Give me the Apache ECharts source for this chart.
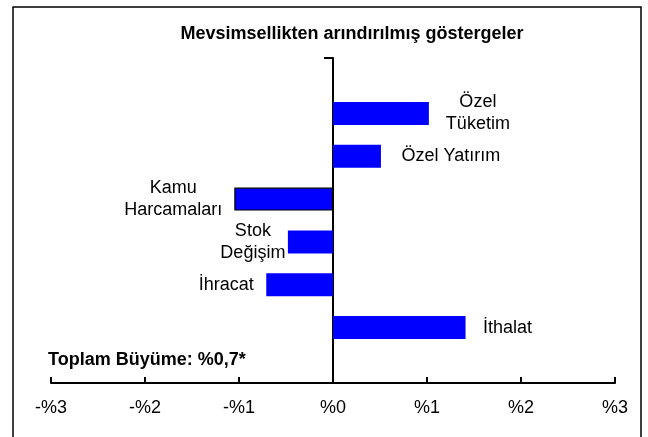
<!DOCTYPE html>
<html>
<head>
<meta charset="utf-8">
<script src="https://cdn.jsdelivr.net/npm/echarts@6/dist/echarts.min.js"></script>
<style>
  html, body { margin: 0; padding: 0; background: #fff; }
  #chart { width: 648px; height: 437px; }
</style>
</head>
<body>
<div id="chart"></div>
<script>
// data
const categories = ["Özel\nTüketim", "Özel Yatırım", "Kamu\nHarcamaları", "Stok\nDeğişim", "İhracat", "İthalat"];
const values = [1.02, 0.51, -1.05, -0.48, -0.71, 1.41];
const tickLabels = ["-%3", "-%2", "-%1", "%0", "%1", "%2", "%3"];
const titleText = "Mevsimsellikten arındırılmış göstergeler";
const noteText = "Toplam Büyüme: %0,7*";

var chartDom = document.getElementById("chart");
var myChart = echarts.init(chartDom);
var option;

// distance from bar end to label centre
const labelGap = [49, 70, 61, 35, 40, 42];
const font = "Liberation Sans, Arial, sans-serif";

const barData = values.map((v, i) => {
  const item = {
    value: v,
    label: {
      position: v >= 0 ? "right" : "left",
      distance: labelGap[i],
      align: "center",
    },
  };
  if (i === 2) {
    item.itemStyle = { borderColor: "#000", borderWidth: 1.2 };
  }
  return item;
});

option = {
  animation: false,
  textStyle: { fontFamily: font },
  title: {
    text: titleText,
    left: 347,
    top: 20,
    textAlign: "center",
    textStyle: { fontSize: 18, fontWeight: "bold", color: "#000" },
  },
  graphic: [
    {
      type: "rect",
      shape: { x: 13, y: 7, width: 628, height: 440 },
      style: { fill: "none", stroke: "#000", lineWidth: 1.5 },
      z: 0,
    },
    {
      type: "text",
      left: 48,
      top: 351,
      style: { text: noteText, font: "bold 18px " + font, fill: "#000" },
    },
  ],
  grid: [
    { left: 51, right: 33, top: 58, bottom: 54 },
    { left: 51, right: 33, top: 92, bottom: 88 },
  ],
  xAxis: [
    {
      gridIndex: 0,
      type: "value",
      min: -3,
      max: 3,
      interval: 1,
      axisLine: { show: true, lineStyle: { color: "#000", width: 2 } },
      axisTick: { show: true, inside: true, length: 6, lineStyle: { color: "#000", width: 2 } },
      axisLabel: {
        margin: 16,
        fontSize: 18,
        color: "#000",
        formatter: (v) => tickLabels[Math.round(v) + 3],
      },
      splitLine: { show: false },
    },
    {
      gridIndex: 1,
      type: "value",
      min: -3,
      max: 3,
      show: false,
    },
  ],
  yAxis: [
    {
      gridIndex: 0,
      type: "value",
      min: 0,
      max: 1,
      interval: 1,
      axisLine: { show: true, onZero: true, lineStyle: { color: "#000", width: 2 } },
      axisTick: { show: true, length: 9, lineStyle: { color: "#000", width: 2 } },
      axisLabel: { show: false },
      splitLine: { show: false },
    },
    {
      gridIndex: 1,
      type: "category",
      inverse: true,
      data: categories,
      show: false,
    },
  ],
  series: [
    {
      type: "bar",
      xAxisIndex: 1,
      yAxisIndex: 1,
      barWidth: 23,
      itemStyle: { color: "#0000ff" },
      label: {
        show: true,
        color: "#000",
        fontSize: 18,
        lineHeight: 22,
        formatter: (p) => p.name,
      },
      data: barData,
      z: 1,
    },
  ],
};

option && myChart.setOption(option);
</script>
</body>
</html>
